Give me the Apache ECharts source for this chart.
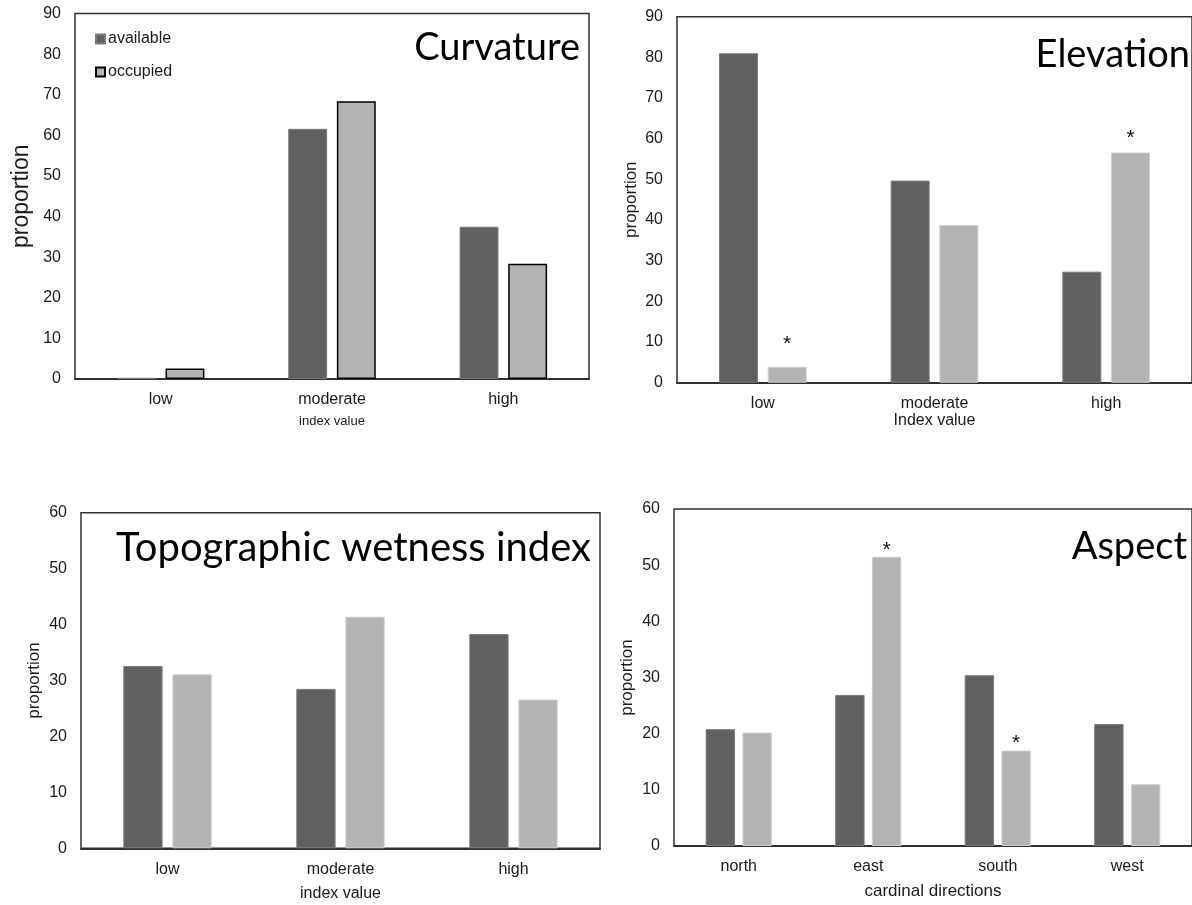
<!DOCTYPE html>
<html>
<head>
<meta charset="utf-8">
<script src="https://cdn.jsdelivr.net/npm/echarts@6/dist/echarts.min.js"></script>
<style>
html,body{margin:0;padding:0;background:#fff;}
#chart{width:1192px;height:905px;}
</style>
</head>
<body>
<div id="chart"></div>
<script>
// ---------- data ----------
const indexCategories = ['low', 'moderate', 'high'];
const aspectCategories = ['north', 'east', 'south', 'west'];
const seriesNames = ['available', 'occupied'];

const curvatureAvailable = [0.3, 61.6, 37.5];
const curvatureOccupied  = [2.6, 68.4, 28.4];

const elevationAvailable = [81.0, 49.7, 27.3];
const elevationOccupied  = [3.9, 38.8, 56.6];
const elevationOccupiedSignificant = [true, false, true];

const twiAvailable = [32.6, 28.5, 38.3];
const twiOccupied  = [31.1, 41.4, 26.6];

const aspectAvailable = [20.8, 26.9, 30.4, 21.7];
const aspectOccupied  = [20.2, 51.5, 17.0, 11.0];
const aspectOccupiedSignificant = [false, true, true, false];

const yAxisMax90 = 90;
const yAxisMax60 = 60;
const yAxisStep = 10;

const panelTitles = ['Curvature', 'Elevation', 'Topographic wetness index', 'Aspect'];
const xAxisTitles = ['index value', 'Index value', 'index value', 'cardinal directions'];
const yAxisTitle = 'proportion';

// ---------- styles / layout ----------
const FONT = '"Liberation Sans", Arial, sans-serif';
const TITLE_FONT = 'Lato, "Open Sans", sans-serif';
const DARK = '#606060';
const LIGHT = '#b3b3b3';

const panels = [
  {cats: indexCategories, avail: curvatureAvailable, occ: curvatureOccupied, sig: null, max: yAxisMax90,
   grid: {left: 75, top: 13.5, width: 514, height: 365.5},
   yName: {size: 23, gap: 42}, xName: {size: 13, gap: 36},
   bordered: true, lifts: null},
  {cats: indexCategories, avail: elevationAvailable, occ: elevationOccupied, sig: elevationOccupiedSignificant, max: yAxisMax90,
   grid: {left: 677, top: 16.7, width: 526, height: 366},
   yName: {size: 17, gap: 37}, xName: {size: 16, gap: 30},
   bordered: false, lifts: [23, 0, 14.5]},
  {cats: indexCategories, avail: twiAvailable, occ: twiOccupied, sig: null, max: yAxisMax60,
   grid: {left: 81, top: 512.7, width: 519, height: 335.6},
   yName: {size: 17, gap: 38}, xName: {size: 16, gap: 37},
   bordered: false, lifts: null},
  {cats: aspectCategories, avail: aspectAvailable, occ: aspectOccupied, sig: aspectOccupiedSignificant, max: yAxisMax60,
   grid: {left: 674, top: 509, width: 525.6, height: 337},
   yName: {size: 17, gap: 38}, xName: {size: 17, gap: 37},
   bordered: false, lifts: [0, 7, 7.5, 0]}
];

const titlePlacement = [
  {x: 580, y: 48, size: 38},
  {x: 1190, y: 55, size: 38},
  {x: 591, y: 548, size: 40},
  {x: 1187, y: 547, size: 38}
];

const grids = [], xAxes = [], yAxes = [], series = [], graphics = [];

panels.forEach((p, i) => {
  grids.push(Object.assign({show: true, borderColor: '#303030', borderWidth: 1.5, backgroundColor: 'transparent'}, p.grid));
  xAxes.push({
    type: 'category', gridIndex: i, data: p.cats,
    axisLine: {show: true, lineStyle: {color: '#303030', width: 2}},
    axisTick: {show: false},
    axisLabel: {color: '#1a1a1a', fontFamily: FONT, fontSize: 16, margin: 13},
    name: xAxisTitles[i], nameLocation: 'middle', nameGap: p.xName.gap,
    nameTextStyle: {color: '#1a1a1a', fontFamily: FONT, fontSize: p.xName.size}
  });
  yAxes.push({
    type: 'value', gridIndex: i, min: 0, max: p.max, interval: yAxisStep,
    axisLine: {show: false}, axisTick: {show: false}, splitLine: {show: false},
    axisLabel: {color: '#1a1a1a', fontFamily: FONT, fontSize: 16, margin: 14},
    name: yAxisTitle, nameLocation: 'middle', nameGap: p.yName.gap,
    nameTextStyle: {color: '#1a1a1a', fontFamily: FONT, fontSize: p.yName.size}
  });
  series.push({
    name: seriesNames[0], type: 'bar', xAxisIndex: i, yAxisIndex: i,
    data: p.avail, barWidth: '22.7%', barGap: '25%',
    itemStyle: {color: DARK, borderColor: '#7a7a7a', borderWidth: 1},
    emphasis: {disabled: true}, animation: false
  });
  series.push({
    name: seriesNames[1], type: 'bar', xAxisIndex: i, yAxisIndex: i,
    data: p.occ.map((v, k) => {
      const d = {value: v};
      if (p.sig && p.sig[k]) {
        d.label = {show: true, formatter: '*', position: 'top', distance: p.lifts[k],
                   verticalAlign: 'middle', fontSize: 21, fontFamily: FONT, color: '#111'};
      }
      return d;
    }),
    barWidth: '22.7%', barGap: '25%',
    itemStyle: p.bordered ? {color: LIGHT, borderColor: '#000', borderWidth: 1.5}
                          : {color: LIGHT, borderColor: '#cfcfcf', borderWidth: 1},
    emphasis: {disabled: true}, animation: false
  });
  const t = titlePlacement[i];
  graphics.push({
    type: 'text', x: t.x, y: t.y, z: 100,
    style: {text: panelTitles[i], fontFamily: TITLE_FONT, fontSize: t.size, fill: '#000',
            textAlign: 'right', textVerticalAlign: 'middle'}
  });
});

const chart = echarts.init(document.getElementById('chart'), null, {renderer: 'canvas'});
chart.setOption({
  animation: false,
  backgroundColor: '#fff',
  grid: grids, xAxis: xAxes, yAxis: yAxes, series: series,
  graphic: graphics,
  legend: {
    data: seriesNames, orient: 'vertical', left: 90, top: 26,
    itemWidth: 9, itemHeight: 9, itemGap: 17, icon: 'rect',
    textStyle: {fontFamily: FONT, fontSize: 16, color: '#1a1a1a', padding: [0, 0, 0, -2]},
    selectedMode: false
  }
});
</script>
</body>
</html>
